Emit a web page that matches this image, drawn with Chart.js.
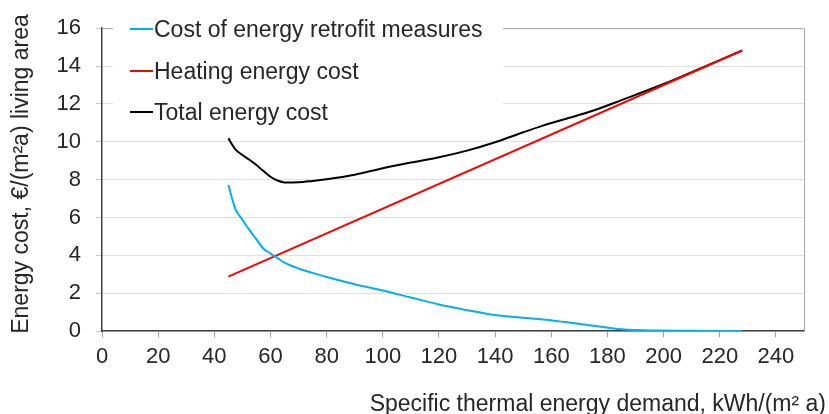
<!DOCTYPE html>
<html>
<head>
<meta charset="utf-8">
<script src="https://cdn.jsdelivr.net/npm/chart.js@4/dist/chart.umd.min.js"></script>
<style>
  html, body { margin: 0; padding: 0; background: #fff; }
  #c { display: block; }
</style>
</head>
<body>
<canvas id="c" width="829" height="414"></canvas>
<script>
// ---- data ----
const demand = [45, 47.5, 50, 52.5, 55, 57.5, 60, 62.5, 65, 70, 75, 80, 90, 100, 110, 120, 130, 140, 150, 157, 165, 175, 185, 200, 215, 228];
const retrofitCost = [7.72, 6.45, 5.88, 5.33, 4.84, 4.35, 4.10, 3.85, 3.61, 3.30, 3.07, 2.85, 2.47, 2.14, 1.77, 1.40, 1.10, 0.84, 0.70, 0.61, 0.47, 0.28, 0.09, 0.02, 0.005, 0.0];
const totalCost = [10.18, 9.60, 9.30, 9.05, 8.77, 8.45, 8.15, 7.95, 7.85, 7.86, 7.93, 8.02, 8.26, 8.60, 8.90, 9.18, 9.53, 9.97, 10.50, 10.85, 11.20, 11.65, 12.20, 13.05, 14.00, 14.82];
const heatingDemand = [45, 228];
const heatingCost = [2.87, 14.82];
const seriesLabels = ['Cost of energy retrofit measures', 'Heating energy cost', 'Total energy cost'];
const xTicks = [0, 20, 40, 60, 80, 100, 120, 140, 160, 180, 200, 220, 240];
const yTicks = [0, 2, 4, 6, 8, 10, 12, 14, 16];
const xTitle = 'Specific thermal energy demand, kWh/(m² a)';
const yTitle = 'Energy cost, €/(m²a) living area';

const FONT = '"Liberation Sans", Arial, sans-serif';
const TEXT = '#262626';

const pts = (xs, ys) => xs.map((x, i) => ({ x: x, y: ys[i] }));

const decor = {
  id: 'decor',
  beforeDatasetsDraw(chart) {
    const { ctx, chartArea: a } = chart;
    ctx.save();
    ctx.strokeStyle = '#a6a6a6';
    ctx.lineWidth = 1;
    ctx.beginPath();
    ctx.moveTo(a.left, a.top + 0.5);
    ctx.lineTo(a.right + 0.5, a.top + 0.5);
    ctx.lineTo(a.right + 0.5, a.bottom);
    ctx.stroke();
    ctx.fillStyle = '#ffffff';
    ctx.fillRect(113, 0, 390, 126);
    ctx.restore();
  },
  afterDraw(chart) {
    const { ctx } = chart;
    ctx.save();
    const rows = [30, 72, 113];
    chart.data.datasets.forEach((ds, i) => {
      const y = rows[i];
      ctx.strokeStyle = ds.borderColor;
      ctx.lineWidth = 2;
      ctx.beginPath();
      ctx.moveTo(130, y - 1);
      ctx.lineTo(153, y - 1);
      ctx.stroke();
      ctx.fillStyle = TEXT;
      ctx.font = '23px ' + FONT;
      ctx.textAlign = 'left';
      ctx.textBaseline = 'middle';
      ctx.fillText(ds.label, 154, y + 1);
    });
    ctx.font = '23px ' + FONT;
    ctx.fillStyle = TEXT;
    ctx.textAlign = 'right';
    ctx.textBaseline = 'alphabetic';
    ctx.fillText(xTitle, 826, 411);
    ctx.translate(22, 174);
    ctx.rotate(-Math.PI / 2);
    ctx.textAlign = 'center';
    ctx.textBaseline = 'middle';
    ctx.fillText(yTitle, 0, 0);
    ctx.restore();
  }
};

new Chart(document.getElementById('c'), {
  type: 'line',
  data: {
    datasets: [
      { label: seriesLabels[0], data: pts(demand, retrofitCost), borderColor: '#00b0f0', borderWidth: 2, pointRadius: 0, cubicInterpolationMode: 'monotone', fill: false },
      { label: seriesLabels[1], data: pts(heatingDemand, heatingCost), borderColor: '#ff0000', borderWidth: 2, pointRadius: 0, fill: false },
      { label: seriesLabels[2], data: pts(demand, totalCost), borderColor: '#000000', borderWidth: 2, pointRadius: 0, cubicInterpolationMode: 'monotone', fill: false }
    ]
  },
  options: {
    responsive: false,
    animation: false,
    devicePixelRatio: 1,
    layout: { padding: { top: 23, right: 25, left: 0, bottom: 0 } },
    plugins: { legend: { display: false }, tooltip: { enabled: false } },
    scales: {
      x: {
        type: 'linear',
        min: 0, max: 250,
        afterBuildTicks: s => { s.ticks = xTicks.map(v => ({ value: v })); },
        afterFit: s => { s.height = 83; },
        grid: { drawOnChartArea: false, drawTicks: true, tickLength: 6, tickColor: '#a0a0a0' },
        border: { color: '#404040', width: 1.5 },
        ticks: { color: TEXT, font: { family: FONT, size: 22 }, padding: 7, maxRotation: 0, autoSkip: false }
      },
      y: {
        min: 0, max: 16,
        afterBuildTicks: s => { s.ticks = yTicks.map(v => ({ value: v })); },
        afterFit: s => { s.width = 102; },
        grid: { color: '#e0e0e0', lineWidth: 1, drawTicks: true, tickLength: 6, tickColor: '#c8c8c8' },
        border: { color: '#404040', width: 1.5 },
        ticks: { color: TEXT, font: { family: FONT, size: 22 }, padding: 15, autoSkip: false }
      }
    }
  },
  plugins: [decor]
});
</script>
</body>
</html>
